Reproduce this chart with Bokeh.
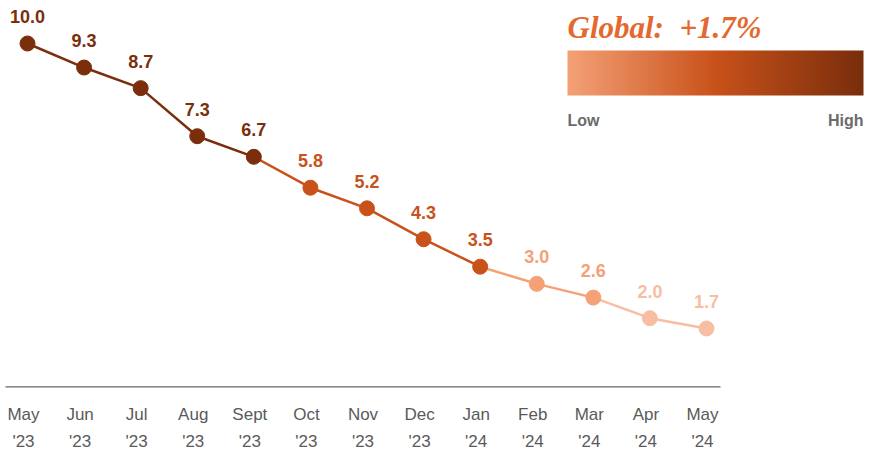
import numpy as np
from bokeh.plotting import figure
from bokeh.models import ColumnDataSource, FixedTicker, LinearAxis, Range1d
from bokeh.core.properties import value
from bokeh.embed import file_html
from bokeh.resources import INLINE

# ---- data ----
months = ["May", "Jun", "Jul", "Aug", "Sept", "Oct", "Nov", "Dec", "Jan", "Feb", "Mar", "Apr", "May"]
years = ["'23", "'23", "'23", "'23", "'23", "'23", "'23", "'23", "'24", "'24", "'24", "'24", "'24"]
rates = [10.0, 9.3, 8.7, 7.3, 6.7, 5.8, 5.2, 4.3, 3.5, 3.0, 2.6, 2.0, 1.7]
global_label = "Global:\u00a0 +1.7%"
legend_low = "Low"
legend_high = "High"

# ---- styles ----
DARK = "#7a2e0c"
MID = "#c9521b"
LIGHT = "#f4a177"
LIGHTER = "#f8bea3"
GREY = "#5a5a5a"


def level_color(v):
    if v >= 6.5:
        return DARK
    if v >= 3.2:
        return MID
    if v >= 2.3:
        return LIGHT
    return LIGHTER


xs = list(range(len(rates)))
colors = [level_color(v) for v in rates]

# geometry (page pixels -> data); canvas origin observed at page (0,0)
OX, OY = 0, 0
FW, FH = 870, 388
kx = 56.583
ky = 34.337
x_start = (OX - 27) / kx
x_end = x_start + FW / kx
y_end = 10.0 + (43 - OY) / ky
y_start = y_end - FH / ky


def X(px):
    return x_start + (px - OX) / kx


def Y(py):
    return y_end - (py - OY) / ky


p = figure(frame_width=FW, frame_height=FH, output_backend="svg", toolbar_location=None,
           x_range=Range1d(x_start, x_end), y_range=Range1d(y_start, y_end),
           y_axis_location=None, min_border_left=0, min_border_right=0,
           min_border_top=0, min_border_bottom=0)
p.outline_line_color = None
p.xgrid.visible = False
p.ygrid.visible = False
p.background_fill_color = "white"
p.border_fill_color = "white"

# axes: months and years (labels sit slightly left of the points, as in the original)
label_shift = -4 / kx
tick_pos = [i + label_shift for i in xs]
ticker = FixedTicker(ticks=tick_pos)
ax = p.xaxis[0]
ax.ticker = ticker
ax.major_label_overrides = {tp: m for tp, m in zip(tick_pos, months)}
ax2 = LinearAxis(ticker=ticker, major_label_overrides={tp: y for tp, y in zip(tick_pos, years)})
p.add_layout(ax2, "below")
for a, so in ((ax, 16), (ax2, 5)):
    a.axis_line_color = None
    a.major_tick_line_color = None
    a.minor_tick_line_color = None
    a.major_tick_out = 0
    a.major_tick_in = 0
    a.major_label_standoff = so
    a.major_label_text_font = "Liberation Sans"
    a.major_label_text_font_size = "17px"
    a.major_label_text_color = GREY

# baseline at y=0
p.segment(x0=[X(5)], y0=[0], x1=[X(720)], y1=[0], line_color="#666666", line_width=1.3)

# line segments colored by end point
seg = ColumnDataSource(dict(x0=xs[:-1], y0=rates[:-1], x1=xs[1:], y1=rates[1:], c=colors[1:]))
p.segment("x0", "y0", "x1", "y1", source=seg, line_color="c", line_width=2.5)

pts = ColumnDataSource(dict(x=xs, y=rates, c=colors, t=[f"{v:.1f}" for v in rates]))
p.scatter("x", "y", source=pts, size=15, fill_color="c", line_color="c")
p.text("x", "y", text="t", source=pts, text_color="c", text_font=value("Liberation Sans"),
       text_font_style="bold", text_font_size="18px", text_align="center",
       text_baseline="alphabetic", y_offset=-27)

# legend: title
p.text(x=[X(567)], y=[Y(26.5)], text=[global_label], text_color="#e4692e",
       text_font=value("Liberation Serif"), text_font_style="bold italic",
       text_font_size="31px", text_align="left", text_baseline="alphabetic")

# gradient bar
stops = np.array([[244, 161, 119], [201, 82, 27], [122, 46, 12]], dtype=float)
n = 256
t = np.linspace(0, 1, n)
r = np.interp(t, [0, 0.5, 1], stops[:, 0])
g = np.interp(t, [0, 0.5, 1], stops[:, 1])
b = np.interp(t, [0, 0.5, 1], stops[:, 2])
palette = ["#%02x%02x%02x" % (int(rr), int(gg), int(bb)) for rr, gg, bb in zip(r, g, b)]
img = np.linspace(0, 1, n).reshape(1, n)
p.image(image=[img], x=X(567), y=Y(95), dw=X(863) - X(567), dh=Y(50) - Y(95),
        palette=palette, level="image")

p.text(x=[X(567)], y=[Y(120)], text=[legend_low], text_color="#6b6b6b",
       text_font=value("Liberation Sans"), text_font_style="bold", text_font_size="16px",
       text_align="left", text_baseline="alphabetic")
p.text(x=[X(863)], y=[Y(120)], text=[legend_high], text_color="#6b6b6b",
       text_font=value("Liberation Sans"), text_font_style="bold", text_font_size="16px",
       text_align="right", text_baseline="alphabetic")

open("out.html", "w").write(file_html(p, INLINE))
